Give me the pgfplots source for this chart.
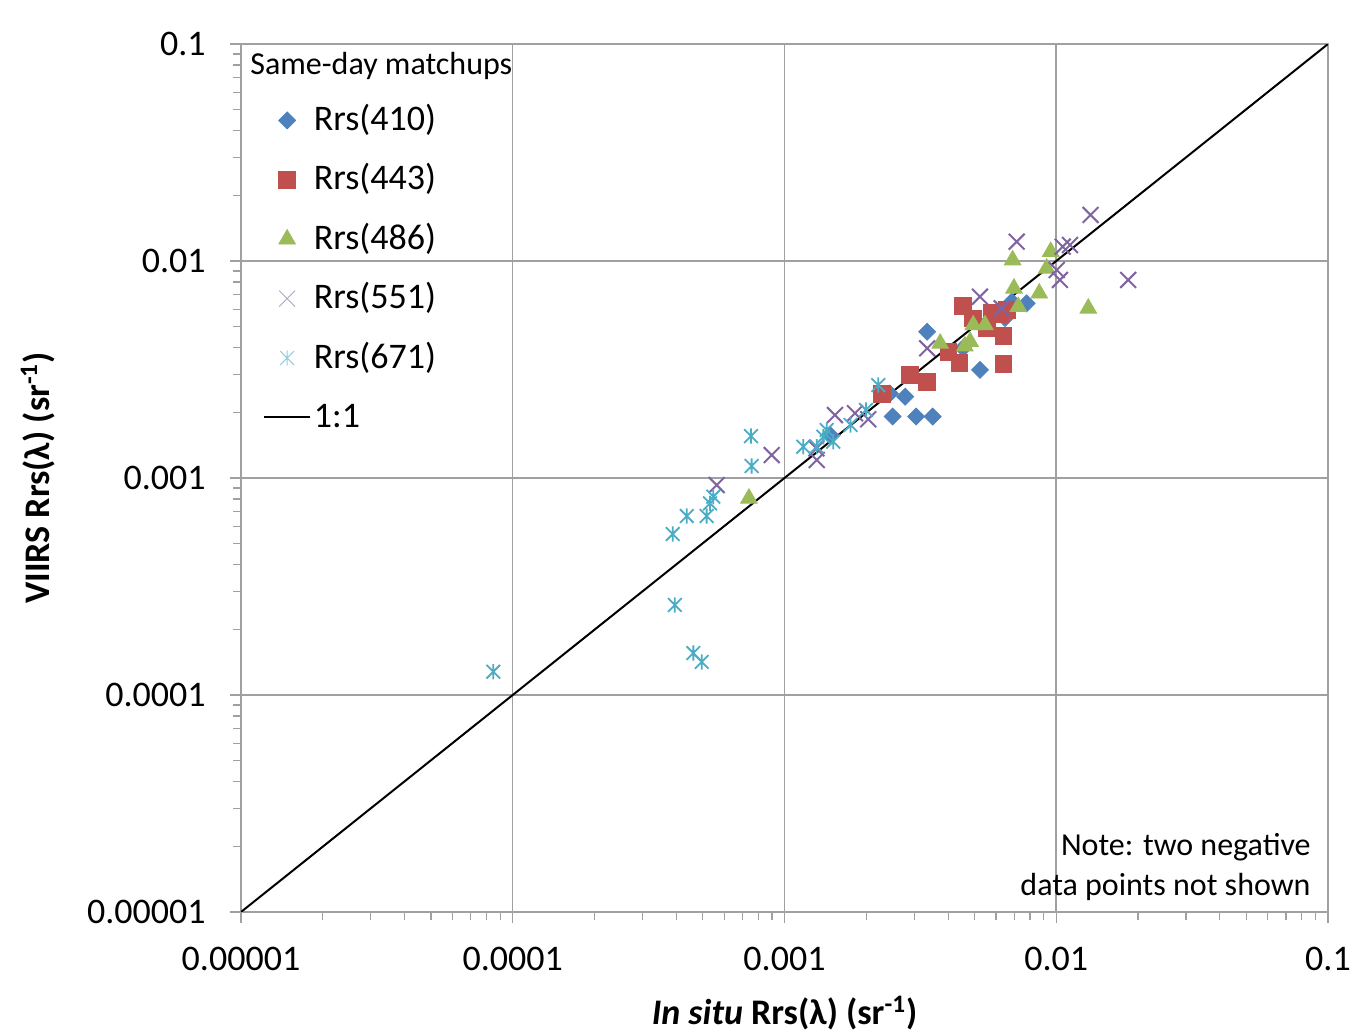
\documentclass[border=0pt]{standalone}
\usepackage{fontspec}
\setmainfont{Carlito}
\usepackage{pgfplots}
\pgfplotsset{compat=1.18}
\usetikzlibrary{calc}
\definecolor{cA}{HTML}{4F81BD}
\definecolor{cB}{HTML}{C0504D}
\definecolor{cC}{HTML}{9BBB59}
\definecolor{cD}{HTML}{8064A2}
\definecolor{cE}{HTML}{4BACC6}
\definecolor{gridgray}{HTML}{A0A0A0}
\pgfdeclareplotmark{xstar}{%
  \pgfpathmoveto{\pgfqpoint{0pt}{-\pgfplotmarksize}}%
  \pgfpathlineto{\pgfqpoint{0pt}{\pgfplotmarksize}}%
  \pgfpathmoveto{\pgfqpoint{-.9\pgfplotmarksize}{-.9\pgfplotmarksize}}%
  \pgfpathlineto{\pgfqpoint{.9\pgfplotmarksize}{.9\pgfplotmarksize}}%
  \pgfpathmoveto{\pgfqpoint{-.9\pgfplotmarksize}{.9\pgfplotmarksize}}%
  \pgfpathlineto{\pgfqpoint{.9\pgfplotmarksize}{-.9\pgfplotmarksize}}%
  \pgfusepathqstroke}
\begin{document}
\begin{tikzpicture}
\begin{axis}[name=ax,
  xmode=log, ymode=log, scale only axis, width=543.5pt, height=434pt,
  xmin=1e-5, xmax=0.1, ymin=1e-5, ymax=0.1,
  xtick={1e-5,1e-4,1e-3,1e-2,1e-1}, xticklabels={0.00001,0.0001,0.001,0.01,0.1},
  ytick={1e-5,1e-4,1e-3,1e-2,1e-1}, yticklabels={0.00001,0.0001,0.001,0.01,0.1},
  grid=major, major grid style={draw=gridgray, line width=0.75pt},
  axis line style={draw=gridgray, line width=0.75pt},
  tick style={draw=gridgray, line width=0.6pt},
  tick align=outside, tick pos=left,
  major tick length=5.5pt, minor tick length=4pt,
  ticklabel style={font=\fontsize{18}{18}\selectfont, inner sep=0pt},
  xticklabel style={anchor=north, yshift=-12pt},
  yticklabel style={anchor=east, xshift=-12pt},
  legend style={at={(0,1)}, anchor=north west, xshift=11pt, yshift=-29pt,
    draw=none, fill=none, inner sep=0pt, font=\fontsize{18}{18}\selectfont,
    row sep=11.7pt, column sep=1.5pt,
    nodes={inner sep=0pt, text height=14pt, text depth=4pt}},
  legend cell align=left,
]
\addplot[only marks, mark=square*, mark size=3pt, mark options={rotate=45, fill=cA, draw=cA},
  legend image code/.code={\path (0cm,0cm) (0.8cm,0cm); \path plot[mark=square*, mark size=3pt, mark options={rotate=45, fill=cA, draw=cA}] coordinates {(0.4cm,0cm)};}]
coordinates {
(0.00335,0.00472) (0.00778,0.00638) (0.00686,0.0065) (0.00524,0.00315)
(0.00278,0.00237) (0.00250,0.00192) (0.00305,0.00192) (0.00351,0.00192)
(0.00648,0.00546) (0.00454,0.00397) (0.00244,0.00245) (0.00147,0.00158)
};
\addlegendentry{Rrs(410)}
\addplot[only marks, mark=square*, mark size=4.2pt, mark options={fill=cB, draw=cB},
  legend image code/.code={\path (0cm,0cm) (0.8cm,0cm); \path plot[mark=square*, mark size=4.2pt, mark options={fill=cB, draw=cB}] coordinates {(0.4cm,0cm)};}]
coordinates {
(0.00453,0.0062) (0.00639,0.00451) (0.00639,0.00335) (0.00579,0.00578)
(0.00657,0.00594) (0.00495,0.00544) (0.00555,0.0049) (0.00401,0.00382)
(0.0044,0.00338) (0.0029,0.00298) (0.00335,0.00278) (0.00228,0.00245)
(0.0062,0.0057)
};
\addlegendentry{Rrs(443)}
\addplot[only marks, mark=triangle*, mark size=4.8pt, mark options={fill=cC, draw=cC},
  legend image code/.code={\path (0cm,0cm) (0.8cm,0cm); \path plot[mark=triangle*, mark size=4.8pt, mark options={fill=cC, draw=cC}] coordinates {(0.4cm,0cm)};}]
coordinates {
(0.00691,0.0101) (0.00954,0.01104) (0.00922,0.00925) (0.00699,0.00748)
(0.00866,0.0071) (0.00725,0.00616) (0.01312,0.00605) (0.00495,0.00507)
(0.00547,0.00507) (0.00482,0.00425) (0.00374,0.00417) (0.00461,0.00405)
(0.00074,0.000806)
};
\addlegendentry{Rrs(486)}
\addplot[only marks, mark=x, mark size=5.6pt, mark options={draw=cD, line width=1pt},
  legend image code/.code={\path (0cm,0cm) (0.8cm,0cm); \path plot[mark=x, mark size=5.6pt, mark options={draw=cD!60, line width=0.5pt}] coordinates {(0.4cm,0cm)};}]
coordinates {
(0.01338,0.0163) (0.00715,0.01227) (0.01056,0.01164) (0.01123,0.01185)
(0.01004,0.00909) (0.01032,0.00818) (0.0184,0.00818) (0.00524,0.00685)
(0.0063,0.00605) (0.00335,0.00396) (0.001534,0.00195) (0.001817,0.001987)
(0.002034,0.001865) (0.001314,0.00121) (0.00131,0.00137) (0.000563,0.000928)
(0.000897,0.001276)
};
\addlegendentry{Rrs(551)}
\addplot[only marks, mark=xstar, mark size=3.8pt, mark options={draw=cE, line width=0.9pt},
  legend image code/.code={\path (0cm,0cm) (0.8cm,0cm); \path plot[mark=xstar, mark size=3.8pt, mark options={draw=cE!60, line width=0.5pt}] coordinates {(0.4cm,0cm)};}]
coordinates {
(8.48e-5,0.000128) (0.000395,0.00026) (0.000462,0.000156) (0.000496,0.000142)
(0.000388,0.000552) (0.000437,0.000668) (0.000517,0.000668) (0.000532,0.000764)
(0.000547,0.00082) (0.000753,0.00156) (0.000757,0.001136) (0.001173,0.001394)
(0.001314,0.001394) (0.00143,0.001664) (0.00139,0.00155) (0.001512,0.00147)
(0.00175,0.001755) (0.001995,0.002058) (0.002214,0.00268)
};
\addlegendentry{Rrs(671)}
\addplot[black, line width=1pt, no marks,
  legend image code/.code={\draw[black, line width=1pt] (0cm,0cm) -- (0.8cm,0cm);}]
coordinates {(1e-5,1e-5) (0.1,0.1)};
\addlegendentry{1:1}
\end{axis}
\node[anchor=west, inner sep=0pt, font=\fontsize{16}{16}\selectfont] at ($(ax.north west)+(4.5pt,-11pt)$) {Same-day matchups};
\node[anchor=east, align=right, inner sep=0pt, font=\fontsize{16}{20}\selectfont] at ($(ax.south east)+(-8.5pt,22.5pt)$) {Note: two negative\\data points not shown};
\node[inner sep=0pt, font=\fontsize{18}{18}\selectfont\bfseries] at ($(ax.south)+(0,-50.5pt)$) {\textit{In situ} Rrs(λ) (sr\textsuperscript{-1})};
\node[inner sep=0pt, rotate=90, font=\fontsize{18}{18}\selectfont\bfseries] at ($(ax.west)+(-101.5pt,0)$) {VIIRS Rrs(λ) (sr\textsuperscript{-1})};
\pgfresetboundingbox
\path[use as bounding box] ($(ax.south west)+(-120.5pt,-60.5pt)$) rectangle ($(ax.north east)+(16pt,22pt)$);
\end{tikzpicture}
\end{document}
